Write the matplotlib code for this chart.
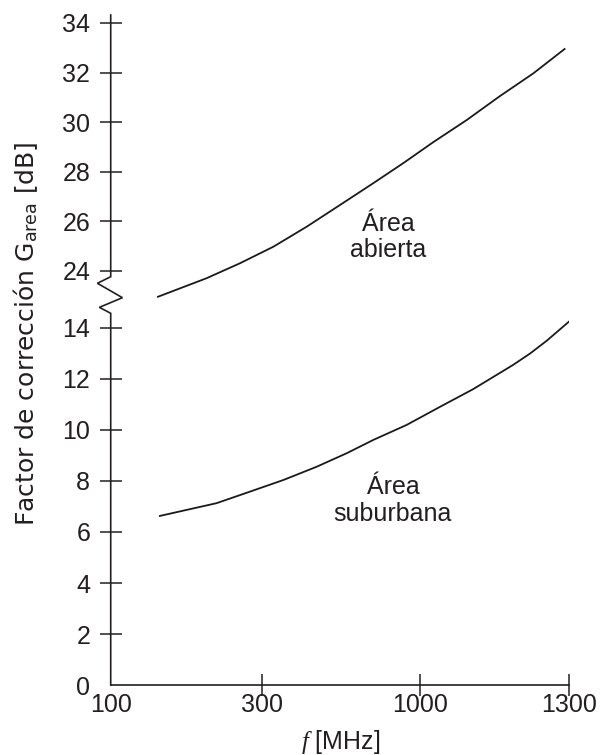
import numpy as np
import matplotlib
matplotlib.use('Agg')
import matplotlib.pyplot as plt
from matplotlib.scale import FuncScale

plt.rcParams['font.family'] = ['Liberation Sans', 'DejaVu Sans']
plt.rcParams['mathtext.fontset'] = 'custom'
plt.rcParams['mathtext.it'] = 'Liberation Serif:italic'
plt.rcParams['mathtext.rm'] = 'Liberation Sans'

INK = '#231f20'

# frecuencia [MHz] y factor de corrección [dB]
f_abierta = [141, 201, 256, 328, 423, 544, 701, 881, 1024, 1086, 1151, 1221, 1290]
g_abierta = [22.96, 23.71, 24.31, 24.98, 25.79, 26.66, 27.54, 28.35, 29.2, 30.09, 31.05, 31.97, 32.95]

f_suburbana = [143, 170, 216, 275, 354, 456, 573, 701, 904, 1036, 1098, 1131, 1178, 1214, 1250, 1300]
g_suburbana = [6.63, 6.84, 7.13, 7.58, 8.04, 8.56, 9.09, 9.61, 10.2, 10.91, 11.6, 12.0, 12.55, 13.0, 13.5, 14.25]

x_ticks = [100, 300, 1000, 1300]
y_ticks = [0, 2, 4, 6, 8, 10, 12, 14, 24, 26, 28, 30, 32, 34]

# eje x: tramos equiespaciados entre las marcas
x_knots = np.log10(x_ticks)
x_pos = [0, 151, 309.3, 458.3]

# eje y cortado entre 14 y 24 dB
y_knots = [0, 14.5, 22.5, 40]
y_pos = [0, 14.5, 14.776, 31.795]


def fx(v):
    return np.interp(np.log10(np.clip(v, 1e-9, None)), x_knots, x_pos)


def fx_inv(p):
    return 10 ** np.interp(p, x_pos, x_knots)


def fy(v):
    return np.interp(v, y_knots, y_pos)


def fy_inv(p):
    return np.interp(p, y_pos, y_knots)


fig = plt.figure(figsize=(6.07, 7.55), dpi=100)
ax = fig.add_axes([0.1824, 0.0927, 0.7550, 0.8874])
ax.set_xscale(FuncScale(ax.xaxis, (fx, fx_inv)))
ax.set_yscale(FuncScale(ax.yaxis, (fy, fy_inv)))

ax.plot(f_abierta, g_abierta, color='#1a1a1a', lw=1.3)
ax.plot(f_suburbana, g_suburbana, color='#1a1a1a', lw=1.3)

ax.set_xlim(100, 1300)
ax.set_ylim(0, 34.32)

ax.set_xticks(x_ticks)
ax.set_xticklabels([str(t) for t in x_ticks])
ax.set_yticks(y_ticks)
ax.set_yticklabels([str(t) for t in y_ticks])
ax.minorticks_off()

ax.tick_params(axis='both', direction='inout', length=16.5, width=1.1,
               color=INK, labelcolor=INK, labelsize=18)
ax.tick_params(axis='x', pad=-2.5)
ax.tick_params(axis='y', pad=6.5)

# sin marca en el origen
ax.yaxis.get_major_ticks()[0].tick1line.set_visible(False)
ax.xaxis.get_major_ticks()[0].tick1line.set_visible(False)

for side in ['top', 'right', 'left']:
    ax.spines[side].set_visible(False)
ax.spines['bottom'].set_color(INK)
ax.spines['bottom'].set_linewidth(1.2)

# eje y con el zigzag del corte
zx = [0, 0, -0.029, 0.0255, -0.0247, 0, 0]
zy = [1.0, 0.6094, 0.5996, 0.5781, 0.5637, 0.5548, 0.0]
ax.plot(zx, zy, transform=ax.transAxes, color=INK, lw=1.2, clip_on=False,
        solid_joinstyle='miter')

ax.text(784, 25.37, 'Área\nabierta', ha='center', va='center',
        fontsize=18, color=INK, linespacing=1.15)
ax.text(814, 7.25, 'Área\nsuburbana', ha='center', va='center',
        fontsize=18, color=INK, linespacing=1.15)

fig.text(26 / 607, 1 - 333.5 / 755,
         r'Factor de corrección G$_{\mathregular{area}}$ [dB]',
         rotation=90, ha='center', va='center', fontsize=18, color=INK,
         family=['DejaVu Sans'])
fig.text(341 / 607, 1 - 749 / 755, r'$f$ [MHz]', ha='center', va='baseline',
         fontsize=18, color=INK)

fig.savefig('out.png', dpi=100)
